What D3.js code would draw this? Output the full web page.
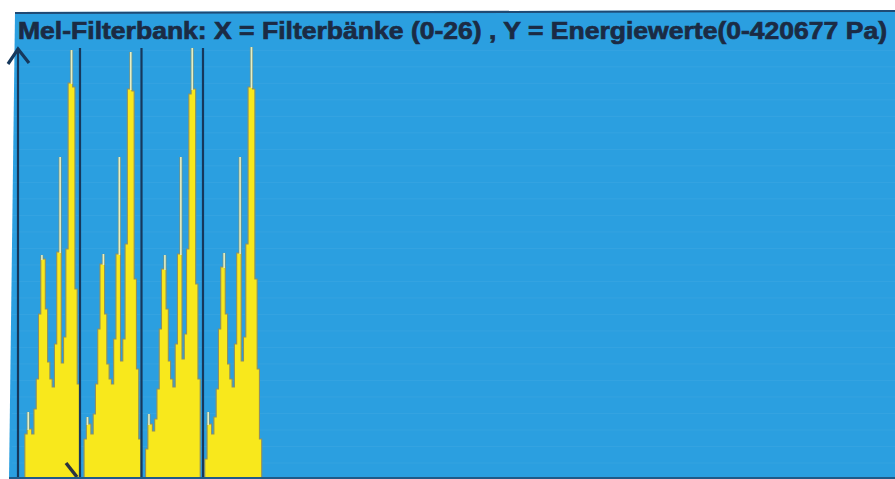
<!DOCTYPE html>
<html>
<head>
<meta charset="utf-8">
<script src="https://cdn.jsdelivr.net/npm/d3@7"></script>
<style>
  html, body { margin: 0; padding: 0; background: #fff; }
  svg { display: block; }
</style>
</head>
<body>
<div id="chart"></div>
<script>
// Mel-Filterbank: 4 Frames zu je 27 Filterbänken, Energie in Pa
const TITEL = 'Mel-Filterbank: X = Filterbänke (0-26) , Y = Energiewerte(0-420677 Pa)';
const Y_MAX = 420677;
const FRAME_1 = [0, 0, 0, 43600, 64900, 48500, 43600, 67900, 96900, 159900, 217100, 213200, 164800, 113400, 96900, 89200, 130900, 220000, 312100, 112400, 137600, 222900, 383800, 415800, 380000, 184200, 92100];
const FRAME_2 = [0, 0, 38800, 60100, 53300, 43600, 63000, 92100, 145400, 208400, 218100, 159900, 111500, 96900, 92100, 135700, 218100, 312100, 114400, 135700, 227800, 378000, 413900, 376100, 193900, 106600, 38800];
const FRAME_3 = [0, 0, 29100, 63000, 53300, 46500, 58200, 87200, 145400, 203600, 217100, 164800, 114400, 96900, 89200, 130900, 218100, 312100, 116300, 140500, 222900, 373200, 417800, 378000, 189000, 96900, 0];
const FRAME_4 = [0, 19400, 64900, 53300, 43600, 60100, 87200, 145400, 205500, 219100, 159900, 111500, 96900, 89200, 130900, 219100, 312100, 114400, 137600, 227800, 380000, 418700, 378000, 193900, 106600, 38800, 0];
const FRAMES = [FRAME_1, FRAME_2, FRAME_3, FRAME_4];

(function () {
  const W = 895, H = 479;
  const BLAU = '#2b9fe0';
  const GELB = '#f8e81c';
  const BLASS = '#e4f0c6';
  const DUNKEL = '#16385c';
  const RAND = '#8d9064';
  const N = FRAMES[0].length;

  const svg = d3.select('#chart').append('svg')
    .attr('width', W).attr('height', H);

  // Hintergrund (leicht schief eingescannt)
  svg.append('polygon')
    .attr('points', [[15, 12], [895, 10], [895, 479], [9, 479]].map(p => p.join(',')).join(' '))
    .attr('fill', BLAU);

  const x = d3.scaleLinear().domain([0, N * FRAMES.length]).range([18, 264]);
  const y = d3.scaleLinear().domain([0, Y_MAX]).range([479, 45]);

  // schwache Rasterlinien
  svg.append('g').selectAll('line')
    .data(d3.range(0, Y_MAX, 16000))
    .join('line')
    .attr('x1', 12).attr('x2', W)
    .attr('y1', d => y(d) + 0.5).attr('y2', d => y(d) + 0.5)
    .attr('stroke', '#fff').attr('stroke-opacity', 0.05);

  const nachbar = (werte, i) => Math.max(i > 0 ? werte[i - 1] : 0, i < N - 1 ? werte[i + 1] : 0);

  const spitzen = [];
  FRAMES.forEach((werte, g) => {
    werte.forEach((v, i) => {
      const n = nachbar(werte, i);
      if (v > n) spitzen.push({ k: g * N + i, v, n });
    });
  });

  const ebene = svg.append('g');
  const linie = d3.line();

  // gelbe Fläche je Frame (Balken bis zur Höhe des höheren Nachbarn)
  FRAMES.forEach((werte, g) => {
    const pts = [[x(g * N), y(0)]];
    werte.forEach((v, i) => {
      const h = Math.min(v, nachbar(werte, i));
      pts.push([x(g * N + i), y(h)], [x(g * N + i + 1), y(h)]);
    });
    pts.push([x((g + 1) * N), y(0)]);
    ebene.append('path')
      .attr('d', linie(pts) + 'Z')
      .attr('fill', GELB)
      .attr('stroke', RAND)
      .attr('stroke-width', 1.1)
      .attr('stroke-linejoin', 'miter');
  });

  // schmale Spitzen über den Nachbarn
  ebene.selectAll('rect.rand')
    .data(spitzen)
    .join('rect')
    .attr('class', 'rand')
    .attr('x', d => (x(d.k) + x(d.k + 1)) / 2 - 1.6)
    .attr('width', 3.2)
    .attr('y', d => y(d.v))
    .attr('height', d => y(d.n) - y(d.v))
    .attr('fill', RAND).attr('fill-opacity', 0.7);
  ebene.selectAll('rect.spitze')
    .data(spitzen)
    .join('rect')
    .attr('class', 'spitze')
    .attr('x', d => (x(d.k) + x(d.k + 1)) / 2 - 0.8)
    .attr('width', 1.6)
    .attr('y', d => y(d.v))
    .attr('height', d => y(d.n) - y(d.v) + 1)
    .attr('fill', BLASS);

  // Trennlinien zwischen den Frames
  svg.append('g').selectAll('line')
    .data(d3.range(1, FRAMES.length))
    .join('line')
    .attr('x1', d => x(d * N) + 0.5).attr('x2', d => x(d * N) + 0.5)
    .attr('y1', 48).attr('y2', H)
    .attr('stroke', DUNKEL).attr('stroke-width', 2.2);

  // Y-Achse mit Pfeil
  svg.append('line')
    .attr('x1', x(0)).attr('x2', x(0))
    .attr('y1', 48).attr('y2', H)
    .attr('stroke', DUNKEL).attr('stroke-width', 2.2);
  svg.append('path')
    .attr('d', `M${x(0) - 10},64 L${x(0)},49 L${x(0) + 11},63`)
    .attr('fill', 'none').attr('stroke', DUNKEL)
    .attr('stroke-width', 3.2).attr('stroke-linejoin', 'miter');

  // Markierung unten
  svg.append('line')
    .attr('x1', 66).attr('y1', 463).attr('x2', 77).attr('y2', 477)
    .attr('stroke', '#2c3440').attr('stroke-width', 3.5);

  // Rahmen oben/unten
  svg.append('line')
    .attr('x1', 15).attr('y1', 13).attr('x2', W).attr('y2', 11)
    .attr('stroke', '#1f4a74').attr('stroke-width', 2);
  svg.append('line')
    .attr('x1', 9).attr('y1', 478).attr('x2', W).attr('y2', 478)
    .attr('stroke', '#1f5a88').attr('stroke-width', 2);

  svg.append('text')
    .attr('x', 18).attr('y', 39)
    .attr('textLength', 869)
    .attr('lengthAdjust', 'spacingAndGlyphs')
    .attr('font-family', '"Liberation Sans Narrow", "Arial Narrow", "Liberation Sans", Arial, sans-serif')
    .attr('font-weight', 'bold')
    .attr('font-size', 24)
    .attr('fill', '#1b2b44')
    .attr('stroke', '#1b2b44')
    .attr('stroke-width', 0.7)
    .text(TITEL);
})();
</script>
</body>
</html>
